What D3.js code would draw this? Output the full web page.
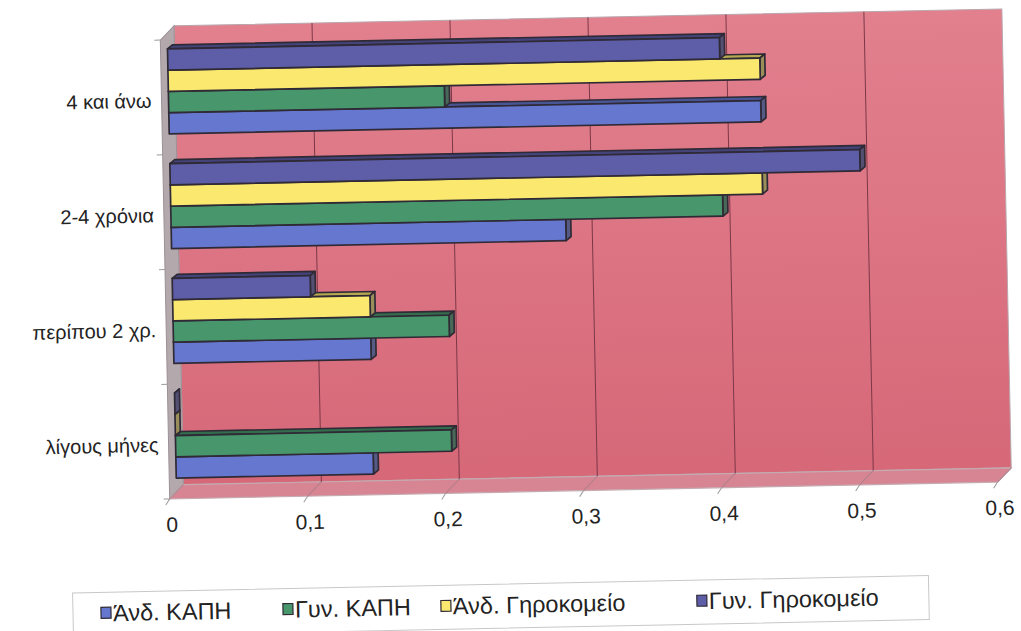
<!DOCTYPE html>
<html>
<head>
<meta charset="utf-8">
<script src="https://cdn.jsdelivr.net/npm/d3@7"></script>
<style>
  body { margin: 0; background: #ffffff; }
  text { font-family: "Liberation Sans", Arial, sans-serif; fill: #232323; }
</style>
</head>
<body>
<svg id="chart" width="1021" height="631"></svg>
<script>
// Categories (top to bottom) and the four series
const categories = ["4 και άνω", "2-4 χρόνια", "περίπου 2 χρ.", "λίγους μήνες"];
const seriesNames = ["Άνδ. ΚΑΠΗ", "Γυν. ΚΑΠΗ", "Άνδ. Γηροκομείο", "Γυν. Γηροκομείο"];
const andresKapi = [0.429, 0.286, 0.143, 0.143];
const gynaikesKapi = [0.2, 0.4, 0.2, 0.2];
const andresGirokomeio = [0.429, 0.429, 0.143, 0];
const gynaikesGirokomeio = [0.4, 0.5, 0.1, 0];
const seriesColors = ["#6577cf", "#48966b", "#fbe96f", "#5e5ea8"];
const xTickValues = [0, 0.1, 0.2, 0.3, 0.4, 0.5, 0.6];
const xTickLabels = ["0", "0,1", "0,2", "0,3", "0,4", "0,5", "0,6"];

const seriesValues = [andresKapi, gynaikesKapi, andresGirokomeio, gynaikesGirokomeio];

const svg = d3.select("#chart");
const root = svg.append("g").attr("transform", "rotate(-1.17 510 315)");

// back wall box and 3D offsets
const wall = { x0: 180, x1: 1008, y0: 19, y1: 478 };
const depth = [-14, 14];     // back wall -> front edge
const barPlane = [-7, 7];    // back wall -> bar front faces
const barDepth = [5, -4];    // bar front face -> bar back face

const x = d3.scaleLinear().domain([0, 0.6]).range([wall.x0, wall.x1]);
const y = d3.scaleBand().domain(categories).range([wall.y0, wall.y1]);
const inner = d3.scaleBand().domain([3, 2, 1, 0]).range([16, 101]);

const defs = svg.append("defs");
const grad = defs.append("linearGradient").attr("id", "wallFill")
  .attr("x1", 0).attr("y1", 0).attr("x2", 0).attr("y2", 1);
grad.append("stop").attr("offset", "0%").attr("stop-color", "#e2808e");
grad.append("stop").attr("offset", "100%").attr("stop-color", "#d66878");

const pts = a => a.map(p => p.join(",")).join(" ");

// back wall
root.append("rect")
  .attr("x", wall.x0).attr("y", wall.y0)
  .attr("width", wall.x1 - wall.x0).attr("height", wall.y1 - wall.y0)
  .attr("fill", "url(#wallFill)")
  .attr("stroke", "#b9a7ad").attr("stroke-width", 1);

// side wall
root.append("polygon")
  .attr("points", pts([[wall.x0, wall.y0], [wall.x0 + depth[0], wall.y0 + depth[1]],
                       [wall.x0 + depth[0], wall.y1 + depth[1]], [wall.x0, wall.y1]]))
  .attr("fill", "#b3a9ad").attr("stroke", "#9c9096").attr("stroke-width", 1);

// floor
root.append("polygon")
  .attr("points", pts([[wall.x0, wall.y1], [wall.x1, wall.y1],
                       [wall.x1 + depth[0], wall.y1 + depth[1]], [wall.x0 + depth[0], wall.y1 + depth[1]]]))
  .attr("fill", "#d88593").attr("stroke", "#c4aab1").attr("stroke-width", 1.2);

// gridlines on wall and floor
const grid = root.append("g").attr("stroke", "#7d3848").attr("stroke-width", 1).attr("fill", "none");
xTickValues.slice(1, -1).forEach(v => {
  grid.append("line").attr("x1", x(v)).attr("x2", x(v)).attr("y1", wall.y0).attr("y2", wall.y1);
});
const floorGrid = root.append("g").attr("stroke", "#b07f8a").attr("stroke-width", 1);
xTickValues.forEach(v => {
  floorGrid.append("line")
    .attr("x1", x(v)).attr("y1", wall.y1)
    .attr("x2", x(v) + depth[0]).attr("y2", wall.y1 + depth[1]);
});

// value axis ticks and labels along the front edge
const axisG = root.append("g");
xTickValues.forEach((v, i) => {
  const fx = x(v) + depth[0], fy = wall.y1 + depth[1];
  axisG.append("line").attr("x1", fx).attr("y1", fy).attr("x2", fx - 4).attr("y2", fy + 6)
    .attr("stroke", "#9a9a9a").attr("stroke-width", 1);
  axisG.append("text").attr("x", fx + 2).attr("y", fy + 33)
    .attr("text-anchor", "middle").style("font-size", "21px").text(xTickLabels[i]);
});

// category ticks and labels
const catG = root.append("g");
const bounds = categories.map(c => y(c)).concat([wall.y1]);
bounds.forEach(b => {
  catG.append("line")
    .attr("x1", wall.x0 + depth[0] - 6).attr("x2", wall.x0 + depth[0])
    .attr("y1", b + depth[1]).attr("y2", b + depth[1])
    .attr("stroke", "#9a9a9a").attr("stroke-width", 1);
});
categories.forEach(c => {
  catG.append("text")
    .attr("x", wall.x0 + depth[0] - 10)
    .attr("y", y(c) + y.bandwidth() / 2 + depth[1] + 10)
    .attr("text-anchor", "end").style("font-size", "20px").text(c);
});

// bars: bottom category first, and within a category the lowest bar first,
// so upper bars cover the top faces of the bars below them
const bars = root.append("g").attr("stroke", "#2f2a35").attr("stroke-width", 1.7)
  .attr("stroke-linejoin", "round");
categories.slice().reverse().forEach(cat => {
  const ci = categories.indexOf(cat);
  [0, 1, 2, 3].forEach(si => {
    const v = seriesValues[si][ci];
    const col = d3.color(seriesColors[si]);
    const x0 = x(0) + barPlane[0];
    const x1 = x(v) + barPlane[0];
    const y0 = y(cat) + barPlane[1] + inner(si);
    const h = inner.bandwidth();
    const [dx, dy] = barDepth;
    const g = bars.append("g");
    g.append("polygon")
      .attr("points", pts([[x0, y0], [x1, y0], [x1 + dx, y0 + dy], [x0 + dx, y0 + dy]]))
      .attr("fill", col.darker(0.9));
    g.append("polygon")
      .attr("points", pts([[x1, y0], [x1 + dx, y0 + dy], [x1 + dx, y0 + h + dy], [x1, y0 + h]]))
      .attr("fill", d3.interpolateRgb(col, "#4a4448")(0.55));
    g.append("rect")
      .attr("x", x0).attr("y", y0).attr("width", Math.max(0, x1 - x0)).attr("height", h)
      .attr("fill", col);
  });
});

// legend
const legend = root.append("g");
legend.append("rect").attr("x", 67).attr("y", 584).attr("width", 856).attr("height", 44)
  .attr("fill", "#ffffff").attr("stroke", "#c8c8c8").attr("stroke-width", 1);
const legendX = [95, 277, 435, 691];
seriesNames.forEach((name, i) => {
  legend.append("rect").attr("x", legendX[i]).attr("y", 599).attr("width", 10).attr("height", 11)
    .attr("fill", seriesColors[i]).attr("stroke", "#2f2a35").attr("stroke-width", 1.2);
  legend.append("text").attr("x", legendX[i] + 12).attr("y", 613)
    .style("font-size", "23.5px").text(name);
});
</script>
</body>
</html>
